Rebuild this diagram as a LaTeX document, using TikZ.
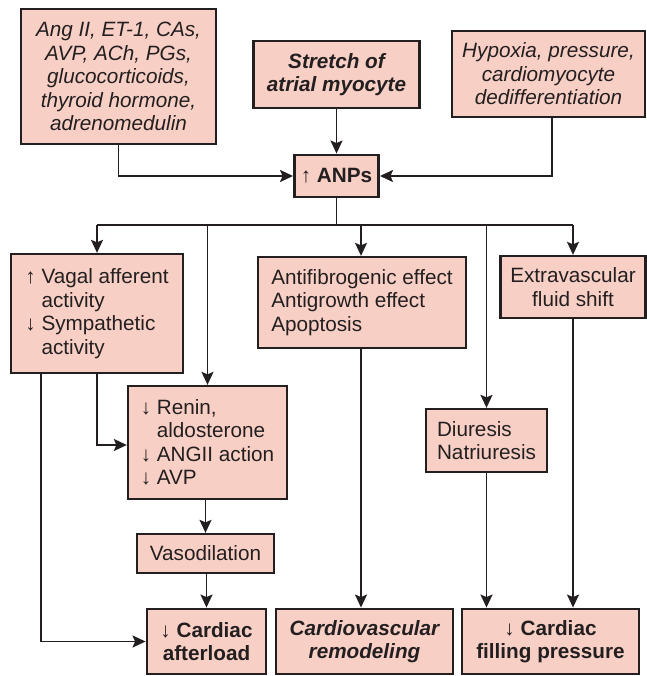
\documentclass[tikz,border=0pt]{standalone}
\usepackage{fontspec}
\setmainfont{Liberation Sans}
\usetikzlibrary{arrows.meta}
\definecolor{boxfill}{RGB}{248,207,196}
\definecolor{ink}{RGB}{35,31,32}
\newcommand{\fsz}{\fontsize{20.7}{23.5}\selectfont}
\begin{document}
\begin{tikzpicture}[x=1pt,y=-1pt,
  plaintext/.style={font=\fsz},
  italictext/.style={font=\fsz\itshape},
  boldtext/.style={font=\fsz\bfseries},
  bolditalic/.style={font=\fsz\bfseries\itshape},
  box/.style={draw=ink, fill=boxfill, text=ink, line width=2.3pt,
              inner sep=0pt, rectangle},
  keybox/.style={box, line width=2.9pt},
  link/.style={draw=ink, line width=1.8pt},
  arr/.style={link, -{Stealth[length=13pt,width=12pt,inset=2.5pt]}}]
\useasboundingbox (0,0) rectangle (646,676);

% inputs acting on the atrial myocyte
\node[keybox, italictext, align=center, minimum width=195pt, minimum height=135pt]
  (src) at (118.5,76.5)
  {Ang II, ET-1, CAs,\\AVP, ACh, PGs,\\glucocorticoids,\\thyroid hormone,\\adrenomedulin};
\node[keybox, bolditalic, align=center, minimum width=166pt, minimum height=67pt]
  (stretch) at (336.5,74.5) {Stretch of\\atrial myocyte};
\node[keybox, italictext, align=center, minimum width=193pt, minimum height=86pt]
  (hyp) at (548.5,74) {Hypoxia, pressure,\\cardiomyocyte\\dedifferentiation};

% peptide release
\node[keybox, boldtext, minimum width=84pt, minimum height=42pt]
  (anp) at (336.5,176) {{\mdseries↑} ANPs};

% primary effects
\node[box, plaintext, align=left, minimum width=172pt, minimum height=119pt]
  (vagal) at (97,313.5)
  {↑ Vagal afferent\\\phantom{↑ }activity\\↓ Sympathetic\\\phantom{↓ }activity};
\node[box, plaintext, align=left, minimum width=159pt, minimum height=113pt]
  (renin) at (207.5,442.5)
  {↓ Renin,\\\phantom{↓ }aldosterone\\↓ ANGII action\\↓ AVP};
\node[box, plaintext, align=left, minimum width=208pt, minimum height=91pt]
  (anti) at (362,302.5)
  {Antifibrogenic effect\\Antigrowth effect\\Apoptosis};
\node[box, plaintext, align=center, minimum width=145pt, minimum height=62pt]
  (extra) at (573,287) {Extravascular\\fluid shift};
\node[box, plaintext, align=left, minimum width=121pt, minimum height=63pt]
  (diur) at (486.5,440.5) {Diuresis\\Natriuresis};
\node[box, plaintext, minimum width=137pt, minimum height=39pt]
  (vaso) at (205.5,553.5) {Vasodilation};

% outcomes
\node[keybox, boldtext, align=center, minimum width=119pt, minimum height=65pt]
  (after) at (206.5,641.5) {{\mdseries↓} Cardiac\\afterload};
\node[keybox, bolditalic, align=center, minimum width=177pt, minimum height=65pt]
  (remod) at (364.5,641.5) {Cardiovascular\\remodeling};
\node[keybox, boldtext, align=center, minimum width=177pt, minimum height=65pt]
  (fill) at (550.5,641.5) {{\mdseries↓} Cardiac\\filling pressure};

% converging inputs
\draw[arr] (src.south) |- (anp.west);
\draw[arr] (stretch.south) -- (anp.north);
\draw[arr] ([xshift=3.5pt]hyp.south) |- (anp.east);

% distribution bus
\coordinate (bus) at (336.5,225);
\draw[link] (anp.south) -- (bus);
\draw[link] (vagal.north |- bus) -- (extra.north |- bus);
\draw[arr] (vagal.north |- bus) -- (vagal.north);
\draw[arr] (renin.north |- bus) -- (renin.north);
\draw[arr] ([xshift=-1pt]anti.north |- bus) -- ([xshift=-1pt]anti.north);
\draw[arr] (diur.north |- bus) -- (diur.north);
\draw[arr] (extra.north |- bus) -- (extra.north);

% downstream links
\draw[arr] (vagal.south) |- ([yshift=-2.5pt]renin.west);
\draw[arr] ([xshift=-56pt]vagal.south) |- (after.west);
\draw[arr] (vaso.north |- renin.south) -- (vaso.north);
\draw[arr] (after.north |- vaso.south) -- (after.north);
\draw[arr] ([xshift=-1pt]anti.south) -- ([xshift=-1pt]anti.south |- remod.north);
\draw[arr] (diur.south) -- (diur.south |- fill.north);
\draw[arr] (extra.south) -- (extra.south |- fill.north);
\end{tikzpicture}
\end{document}
